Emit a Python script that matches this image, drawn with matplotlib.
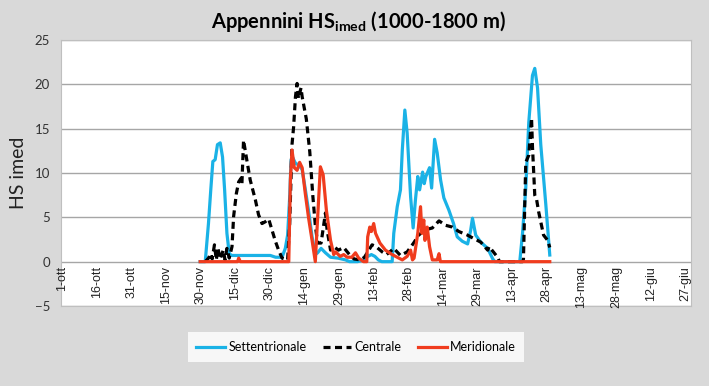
import numpy as np
import matplotlib
matplotlib.use("Agg")
import matplotlib.pyplot as plt

# days counted from 1 October (day 0)
sett_days = [59.8, 62.0, 63.4, 64.4, 65.3, 66.3, 67.3, 68.5, 69.5, 70.4, 71.4, 72.4, 73.5, 84, 90.2,
             92.5, 95.3, 96.7, 97.7, 98.6, 99.2, 99.8, 101.1, 102.5, 104.0, 105.4, 106.8, 108.3,
             109.7, 110.7, 112.2, 114.1, 116.3, 119.5, 122.8, 124.5, 128, 130.5, 132.5, 134,
             135.5, 137, 138.5, 143.0, 143.7, 145.2, 146.6, 147.4, 148.5, 149.5, 151.0, 152.1,
             153.1, 154.1, 154.9, 156.2, 156.9, 157.6, 159.2, 160.1, 161.4, 162.5, 164.0, 165.4,
             167.6, 169.6, 171.2, 173.4, 175.7, 177.0, 177.8, 179.2, 181.4, 184.4, 186.6, 187.5,
             198.3, 199.5, 200.9, 202.2, 203.8, 204.8, 206.0, 207.4, 209.6, 211.3]
sett_vals = [0, 0, 4.3, 8.1, 11.3, 11.5, 13.2, 13.4, 11.8, 8.1, 3.2, 0.9, 0.7, 0.7, 0.7,
             0.5, 0.5, 1.5, 3.0, 7.3, 11.5, 11.8, 11.1, 10.9, 10.4, 8.1, 5.7, 2.8,
             0.8, 1.0, 1.5, 1.0, 0.5, 0.4, 0.2, 0, 0, 0.2, 0.6, 0.8,
             0.6, 0.2, 0, 0, 3.2, 6.2, 8.1, 12.6, 17.1, 14.5, 7.3, 3.8,
             7.0, 9.6, 8.1, 10.1, 8.8, 9.6, 10.6, 8.3, 13.8, 12.3, 9.2, 7.2,
             5.8, 4.3, 2.8, 2.3, 2.0, 3.5, 4.9, 3.0, 2.2, 1.5, 0.3, 0,
             0, 3.2, 8.3, 15.7, 21.0, 21.8, 19.6, 13.2, 6.4, 0.75]

cent_days = [62.0, 63.4, 64.4, 65.0, 66.0, 66.8, 67.5, 68.5, 69.8, 70.6, 71.4, 72.4, 73.6, 74.3,
             75.5, 76.5, 77.5, 77.9, 78.6, 79.8, 81.5, 83.7, 85.1, 86.6, 88.0, 89.5, 90.9, 92.4,
             93.8, 95.3, 97.7, 98.6, 99.6, 100.3, 101.1, 101.8, 102.4, 103.5, 104.0, 105.8,
             107.3, 108.6, 109.7, 110.7, 112.2, 114.1, 114.8, 116.3, 117.7, 119.7, 122, 124.5,
             126.5, 129.3, 131, 132.9, 134.3, 136, 138.7, 140.5, 142, 143.7, 146.6, 149.5,
             152.3, 154.5, 157.5, 160.4, 163.3, 166.2, 169.1, 171.9, 175.6, 177.0, 181.4,
             184.4, 185, 188.7, 189.5, 199.5, 199.9, 200.9, 202.2, 203.4, 203.8, 204.8, 205.6,
             206.5, 208.6, 210.4, 211.3]
cent_vals = [0, 0.4, 0.9, 0.3, 1.9, 0.2, 1.5, 0.3, 1.3, 0.2, 1.5, 0.4, 1.7, 5.1,
             7.7, 9.0, 9.4, 8.8, 13.7, 11.8, 9.2, 7.0, 5.3, 4.3, 4.5, 4.8, 3.6, 2.3,
             1.3, 0.4, 0.2, 4.3, 13.2, 15.2, 18.6, 20.1, 18.4, 19.6, 18.6, 16.1,
             12.4, 7.5, 4.1, 2.1, 2.1, 5.5, 3.6, 1.3, 1.7, 1.3, 1.6, 0.8,
             0.3, 0.2, 0.5, 1.3, 1.9, 1.7, 1.1, 0.8, 1.1, 1.5, 0.7, 1.1,
             2.1, 3.0, 3.6, 3.8, 4.6, 4.1, 3.9, 3.4, 3.0, 2.8, 2.2,
             1.3, 1.7, 0.5, 0, 0, 0.3, 11.2, 12.0, 16.2, 13.0, 7.5, 7.0,
             5.6, 3.0, 2.4, 1.6]

merid_days = [59.8, 76, 76.5, 77.2, 98.2, 98.9, 99.6, 100.6, 101.8, 102.9, 104.0, 105.4, 106.8,
              108.3, 109.7, 110.7, 111.9, 113.1, 114.5, 116.3, 117.7, 118.5, 120.5, 122, 123.5,
              125.5, 127.1, 128.5, 130.6, 132.0, 132.4, 133.3, 134.0, 135.0, 135.8, 137.7,
              140.1, 143.0, 145.9, 147.4, 149.5, 151.0, 151.8, 152.5, 154.1, 155.3, 155.9,
              156.7, 157.2, 158.2, 159.2, 160.4, 162.5, 163.3, 163.9, 211.3]
merid_vals = [0, 0, 0.4, 0, 0, 9.2, 12.6, 10.6, 10.3, 11.2, 10.6, 7.6, 4.9,
              2.4, 0, 4.9, 10.7, 9.8, 5.8, 2.4, 0.8, 1.1, 0.6, 0.8, 0.5,
              0.5, 1.0, 0.4, 0, 0, 2.8, 3.9, 3.4, 4.3, 3.2, 2.1,
              1.3, 0.8, 0.4, 0.2, 0.6, 1.3, 0.2, 0.4, 3.2, 6.2, 3.2,
              4.7, 2.4, 3.9, 1.7, 0.2, 0.2, 0.9, 0, 0]

tick_days = list(range(0, 271, 15))
tick_labels = ["1-ott", "16-ott", "31-ott", "15-nov", "30-nov", "15-dic", "30-dic", "14-gen",
               "29-gen", "13-feb", "28-feb", "14-mar", "29-mar", "13-apr", "28-apr", "13-mag",
               "28-mag", "12-giu", "27-giu"]

plt.rcParams["font.family"] = ["Lato", "DejaVu Sans"]
plt.rcParams["mathtext.fontset"] = "custom"
plt.rcParams["mathtext.rm"] = "Lato:bold"
plt.rcParams["mathtext.it"] = "Lato:bold"
plt.rcParams["mathtext.bf"] = "Lato:bold"

bg = "#d9d9d9"
fig = plt.figure(figsize=(7.09, 3.86), dpi=100, facecolor=bg)
ax = fig.add_axes([61 / 709, 1 - 306 / 386, 630 / 709, 266 / 386])
ax.set_facecolor("white")

ax.plot(sett_days, sett_vals, color="#1ab2e6", lw=2.3, label="Settentrionale", zorder=3)
ax.plot(cent_days, cent_vals, color="black", lw=2.3, ls=(0, (2.2, 1.4)), label="Centrale", zorder=4)
ax.plot(merid_days, merid_vals, color="#f03c1e", lw=2.3, label="Meridionale", zorder=5)

ax.set_xlim(-0.5, 272.5)
ax.set_ylim(-5, 25)
ax.set_yticks(range(-5, 26, 5))
ax.yaxis.grid(True, color="#a6a6a6", lw=1)
ax.set_axisbelow(True)
ax.tick_params(axis="y", length=0, labelsize=9.5, colors="#333333", pad=8)
ax.set_xticks([])
for s in ax.spines.values():
    s.set_color("#bfbfbf")
    s.set_linewidth(0.8)

for d, lab in zip(tick_days, tick_labels):
    ax.text(d, -0.5, lab, rotation=90, ha="center", va="top", fontsize=9,
            family="Liberation Sans", color="#222222")

ax.set_ylabel("HS imed", fontsize=14, color="#222222", labelpad=5)

fig.text(0.505, 0.945, r"Appennini HS$_{\mathrm{imed}}$ (1000-1800 m)", ha="center", va="center",
         fontsize=14.5, fontweight="bold")

leg = fig.legend(loc="center", bbox_to_anchor=(356 / 709, 1 - 347 / 386), ncol=3, fontsize=9,
                 frameon=True, fancybox=False, edgecolor="white", facecolor="white",
                 handlelength=2.3, handletextpad=0.25, columnspacing=1.3, borderpad=0.7)
leg.get_frame().set_linewidth(0)

fig.savefig("out.png", dpi=100, facecolor=bg)
